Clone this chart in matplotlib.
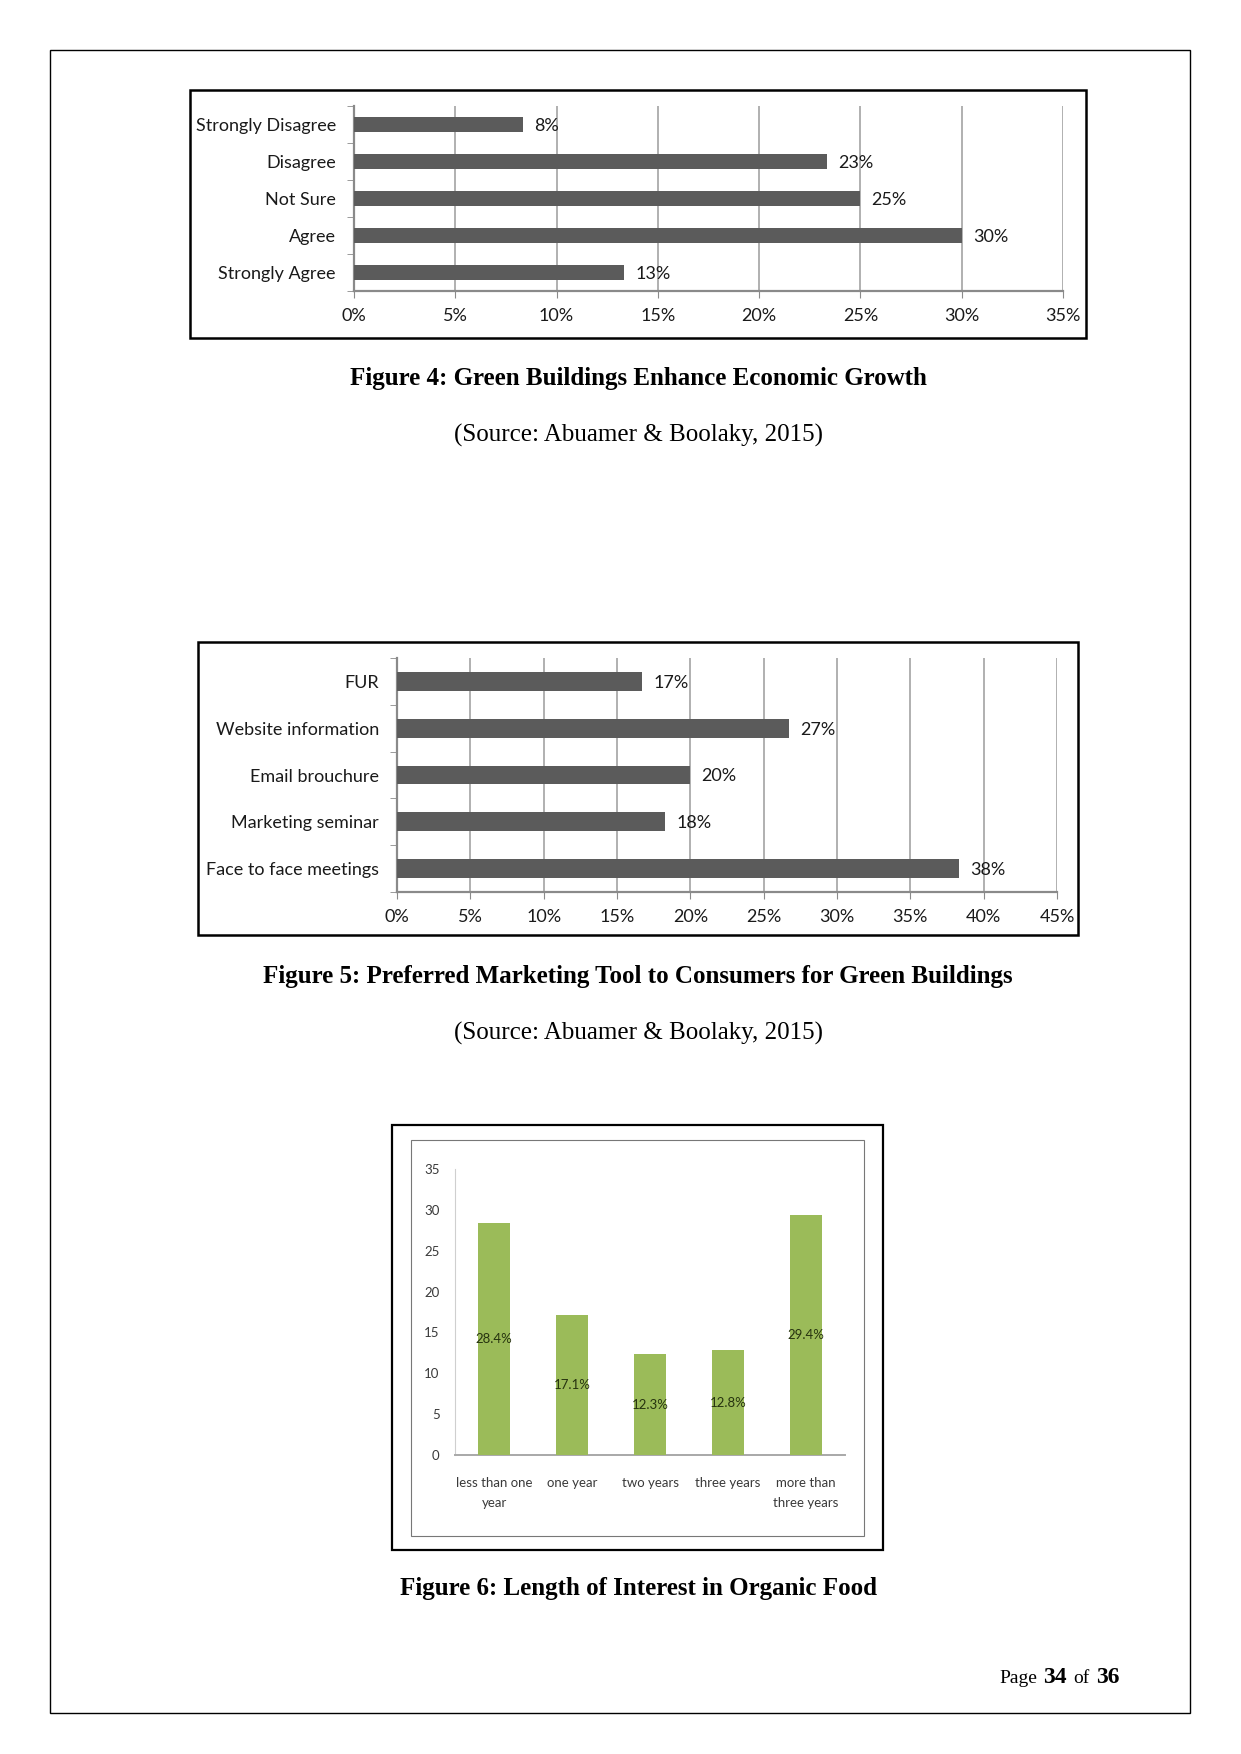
import matplotlib
matplotlib.use('Agg')
import matplotlib.pyplot as plt
from matplotlib.patches import Rectangle

W, H = 1241, 1754

# Figure 4 data
agree_cats = ['Strongly Disagree', 'Disagree', 'Not Sure', 'Agree', 'Strongly Agree']
agree_vals = [8.33, 23.33, 25.0, 30.0, 13.33]
agree_labels = ['8%', '23%', '25%', '30%', '13%']

# Figure 5 data
tool_cats = ['FUR', 'Website information', 'Email brouchure', 'Marketing seminar', 'Face to face meetings']
tool_vals = [16.7, 26.7, 20.0, 18.3, 38.3]
tool_labels = ['17%', '27%', '20%', '18%', '38%']

# Figure 6 data
time_cats = ['less than one\nyear', 'one year', 'two years', 'three years', 'more than\nthree years']
time_vals = [28.4, 17.1, 12.3, 12.8, 29.4]
time_labels = ['28.4%', '17.1%', '12.3%', '12.8%', '29.4%']

CHART_FONT = ['Lato', 'DejaVu Sans']
NARROW_FONT = ['Lato', 'DejaVu Sans']
SERIF = ['Liberation Serif', 'DejaVu Serif']
BAR_GREY = '#5b5b5b'
GRID = '#a3a3a3'
AXIS = '#8a8a8a'
GREEN = '#9bbb59'

fig = plt.figure(figsize=(W / 100, H / 100), dpi=100)
fig.patch.set_facecolor('white')


def px_axes(x0, y0, x1, y1):
    return fig.add_axes([x0 / W, 1 - y1 / H, (x1 - x0) / W, (y1 - y0) / H])


# page overlay in pixel coordinates
ov = fig.add_axes([0, 0, 1, 1])
ov.set_xlim(0, W)
ov.set_ylim(H, 0)
ov.axis('off')


def box(x0, y0, x1, y1, lw, color='black'):
    ov.add_patch(Rectangle((x0, y0), x1 - x0, y1 - y0, fill=False, lw=lw, edgecolor=color))


box(50, 50, 1190, 1713, 1.0)
box(190, 90, 1086, 338, 1.8)
box(198, 642, 1078, 935, 1.8)
box(392, 1125, 883, 1550, 1.6)
box(411, 1140, 864, 1536, 0.8, '#777777')

ov.text(638, 378, 'Figure 4: Green Buildings Enhance Economic Growth', ha='center', va='center',
        family=SERIF, weight='bold', fontsize=18)
ov.text(638, 435, '(Source: Abuamer & Boolaky, 2015)', ha='center', va='center',
        family=SERIF, fontsize=18)
ov.text(638, 976, 'Figure 5: Preferred Marketing Tool to Consumers for Green Buildings', ha='center',
        va='center', family=SERIF, weight='bold', fontsize=18)
ov.text(638, 1033, '(Source: Abuamer & Boolaky, 2015)', ha='center', va='center',
        family=SERIF, fontsize=18)
ov.text(638, 1589, 'Figure 6: Length of Interest in Organic Food', ha='center', va='center',
        family=SERIF, weight='bold', fontsize=18)

# page number
ov.text(999, 1683, 'Page', ha='left', va='baseline', family=SERIF, fontsize=14)
ov.text(1043, 1683, '34', ha='left', va='baseline', family=SERIF, fontsize=17, weight='bold')
ov.text(1073, 1683, 'of', ha='left', va='baseline', family=SERIF, fontsize=14)
ov.text(1096, 1683, '36', ha='left', va='baseline', family=SERIF, fontsize=17, weight='bold')


def hbar_chart(ax, cats, vals, labels, xmax):
    pos = list(range(len(cats)))
    ax.barh(pos, vals, height=0.4, color=BAR_GREY, zorder=3)
    ax.set_xlim(0, xmax)
    ax.set_ylim(len(cats) - 0.5, -0.5)
    ticks = list(range(0, xmax + 1, 5))
    ax.set_xticks(ticks)
    ax.set_xticklabels([f'{t}%' for t in ticks])
    ax.set_yticks(pos)
    ax.set_yticklabels(cats)
    ax.set_yticks([p - 0.5 for p in pos] + [len(cats) - 0.5], minor=True)
    ax.grid(axis='x', color=GRID, lw=1.2, zorder=0)
    ax.set_axisbelow(True)
    for s in ['top', 'right']:
        ax.spines[s].set_visible(False)
    for s in ['left', 'bottom']:
        ax.spines[s].set_color(AXIS)
        ax.spines[s].set_linewidth(1.6)
    ax.tick_params(axis='x', direction='out', length=5, color=AXIS, labelsize=13, pad=7)
    ax.tick_params(axis='y', which='major', length=0, labelsize=13, pad=13)
    ax.tick_params(axis='y', which='minor', length=5, color=AXIS, direction='out')
    for lab in ax.get_xticklabels() + ax.get_yticklabels():
        lab.set_family(CHART_FONT)
        lab.set_color('#1a1a1a')
    for p, v, t in zip(pos, vals, labels):
        ax.annotate(t, (v, p), xytext=(8, -1), textcoords='offset points', va='center', ha='left',
                    fontsize=13, family=CHART_FONT, color='#1a1a1a', zorder=4)


ax1 = px_axes(354, 106, 1063, 291)
hbar_chart(ax1, agree_cats, agree_vals, agree_labels, 35)

ax2 = px_axes(397, 658, 1057, 892)
hbar_chart(ax2, tool_cats, tool_vals, tool_labels, 45)

# Figure 6 column chart
ax3 = px_axes(455, 1169, 845, 1455)
xpos = list(range(len(time_cats)))
ax3.bar(xpos, time_vals, width=0.42, color=GREEN, zorder=3)
ax3.set_xlim(-0.5, len(time_cats) - 0.5)
ax3.set_ylim(0, 35)
ax3.set_yticks(range(0, 36, 5))
ax3.set_xticks(xpos)
ax3.set_xticklabels(time_cats, linespacing=1.75)
for s in ['top', 'right']:
    ax3.spines[s].set_visible(False)
ax3.spines['left'].set_color('#cfcfcf')
ax3.spines['bottom'].set_color('#a8a8a8')
ax3.spines['bottom'].set_linewidth(1.4)
ax3.tick_params(axis='x', length=0, labelsize=9.5, pad=16, colors='#3a3a3a')
ax3.tick_params(axis='y', length=0, labelsize=9.5, pad=11, colors='#3a3a3a')
for lab in ax3.get_xticklabels() + ax3.get_yticklabels():
    lab.set_family(NARROW_FONT)
for x, v, t in zip(xpos, time_vals, time_labels):
    ax3.text(x, v / 2, t, ha='center', va='center', fontsize=9.5, family=NARROW_FONT,
             color='#26330f', zorder=4)

fig.savefig('out.png', dpi=100)
